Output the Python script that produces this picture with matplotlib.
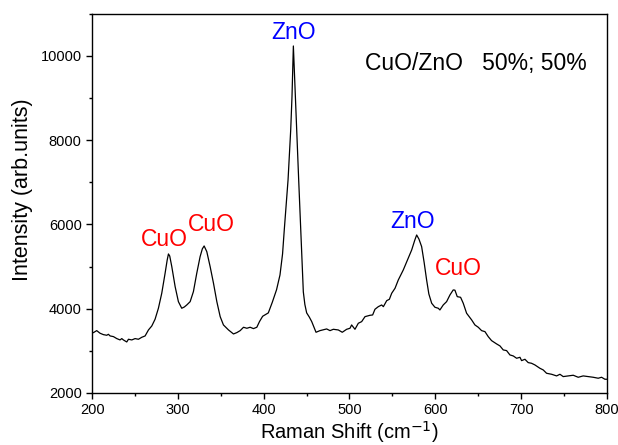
import matplotlib
matplotlib.use("Agg")
import matplotlib.pyplot as plt
from matplotlib.ticker import MultipleLocator

plt.rcParams['font.family'] = ['Liberation Sans', 'DejaVu Sans']

# Raman spectrum (shift in cm^-1, intensity in arb. units)
shift = [200, 201.5, 205.4, 209.3, 213.2, 217.1, 219.0, 221.0, 224.9, 228.8,
         232.6, 234.6, 236.5, 240.4, 242.4, 246.3, 250.1, 254.0, 257.9, 261.8,
         265.7, 269.6, 273.4, 277.3, 281.2, 285.1, 287.5, 289.0, 290.5, 292.9,
         296.8, 300.6, 304.5, 307.5, 310.4, 314.3, 318.1, 322.0, 325.9, 328.5,
         330.6, 333.7, 337.6, 341.5, 345.4, 349.3, 353.1, 359.0, 364.8, 368.7,
         372.6, 376.5, 380.4, 384.2, 388.1, 392.0, 395.1, 398.8, 402.0, 405.4,
         410.0, 415.0, 419.0, 422.0, 424.0, 426.2, 428.4, 431.5, 433.0, 434.6,
         436.9, 438.5, 440.8, 443.2, 446.2, 448.0, 450.1, 453.2, 456.0, 461.0,
         465.6, 469.5, 473.4, 477.3, 481.2, 487.0, 491.6, 496.7, 500.6, 502.5,
         506.4, 510.3, 514.2, 518.1, 523.9, 527.0, 529.7, 533.6, 537.5, 539.5,
         543.4, 546.5, 549.2, 553.1, 556.9, 562.7, 567.5, 572.5, 576.0, 578.3,
         581.0, 584.1, 587.0, 589.9, 592.5, 595.8, 599.6, 603.5, 605.4, 609.3,
         613.2, 617.1, 620.9, 622.9, 625.6, 629.5, 632.6, 636.5, 642.4, 646.2,
         650.1, 654.0, 657.9, 661.7, 665.6, 671.5, 675.4, 679.2, 683.1, 687.0,
         690.9, 694.8, 698.7, 700.6, 704.5, 708.3, 712.2, 716.1, 720.0, 721.9,
         725.8, 729.7, 735.6, 741.4, 745.3, 749.1, 755.0, 760.8, 766.6, 772.4,
         778.3, 784.1, 789.9, 793.8, 797.7, 800]
intensity = [3430, 3431, 3479, 3417, 3384, 3369, 3392, 3353, 3337, 3290,
             3258, 3290, 3258, 3210, 3274, 3258, 3290, 3274, 3321, 3353,
             3495, 3590, 3749, 4010, 4366, 4841, 5150, 5299, 5250, 4998,
             4523, 4167, 4010, 4040, 4089, 4167, 4405, 4841, 5235, 5420,
             5489, 5354, 4998, 4604, 4167, 3811, 3614, 3495, 3400, 3432,
             3479, 3559, 3535, 3559, 3527, 3559, 3693, 3820, 3860, 3900,
             4150, 4450, 4800, 5300, 5870, 6450, 7056, 8243, 9033, 10236,
             9033, 8243, 7056, 5869, 4400, 4100, 3900, 3800, 3693, 3440,
             3479, 3500, 3519, 3479, 3511, 3495, 3440, 3511, 3535, 3614,
             3511, 3654, 3693, 3811, 3843, 3851, 3986, 4048, 4088, 4048,
             4191, 4223, 4366, 4485, 4682, 4919, 5150, 5394, 5620, 5750,
             5650, 5473, 5100, 4682, 4350, 4129, 4034, 4010, 3970, 4089,
             4167, 4326, 4445, 4440, 4286, 4270, 4129, 3892, 3733, 3614,
             3559, 3479, 3455, 3337, 3242, 3163, 3116, 3021, 3005, 2902,
             2878, 2823, 2846, 2767, 2799, 2720, 2704, 2665, 2610, 2586,
             2546, 2467, 2443, 2404, 2443, 2388, 2404, 2420, 2372, 2404,
             2388, 2372, 2349, 2372, 2325, 2325]

# peak labels: text, x, baseline y, colour
peak_names = ["CuO", "CuO", "ZnO", "ZnO", "CuO"]
peak_x = [284.5, 339, 435, 573, 627]
peak_y = [5490, 5840, 10400, 5920, 4810]
peak_colors = ["#ff0000", "#ff0000", "#0000ff", "#0000ff", "#ff0000"]

fig = plt.figure(figsize=(6.18, 4.45), dpi=100)
ax = fig.add_axes([0.149, 0.117, 0.833, 0.852])

ax.plot(shift, intensity, color="black", lw=0.9)

for name, px, py, c in zip(peak_names, peak_x, peak_y, peak_colors):
    ax.text(px, py, name, color=c, fontsize=16.5, ha="center", va="baseline")

ax.text(518, 9660, "CuO/ZnO   50%; 50%", fontsize=16.5, ha="left", va="baseline")

ax.set_xlim(200, 800)
ax.set_ylim(2000, 11000)
ax.xaxis.set_major_locator(MultipleLocator(100))
ax.xaxis.set_minor_locator(MultipleLocator(50))
ax.yaxis.set_major_locator(MultipleLocator(2000))
ax.yaxis.set_minor_locator(MultipleLocator(1000))
ax.tick_params(which="both", direction="out", top=False, right=False,
               labelsize=10.5, width=1, pad=3)
ax.tick_params(which="major", length=4.5)
ax.tick_params(which="minor", length=2.5)
for s in ax.spines.values():
    s.set_linewidth(1)

ax.set_xlabel("Raman Shift (cm$^{-1}$)", fontsize=14.5)
ax.xaxis.set_label_coords(0.5, -0.068)
ax.set_ylabel("Intensity (arb.units)", fontsize=15.5)
ax.yaxis.set_label_coords(-0.115, 0.535)

fig.savefig("out.png", dpi=100)
